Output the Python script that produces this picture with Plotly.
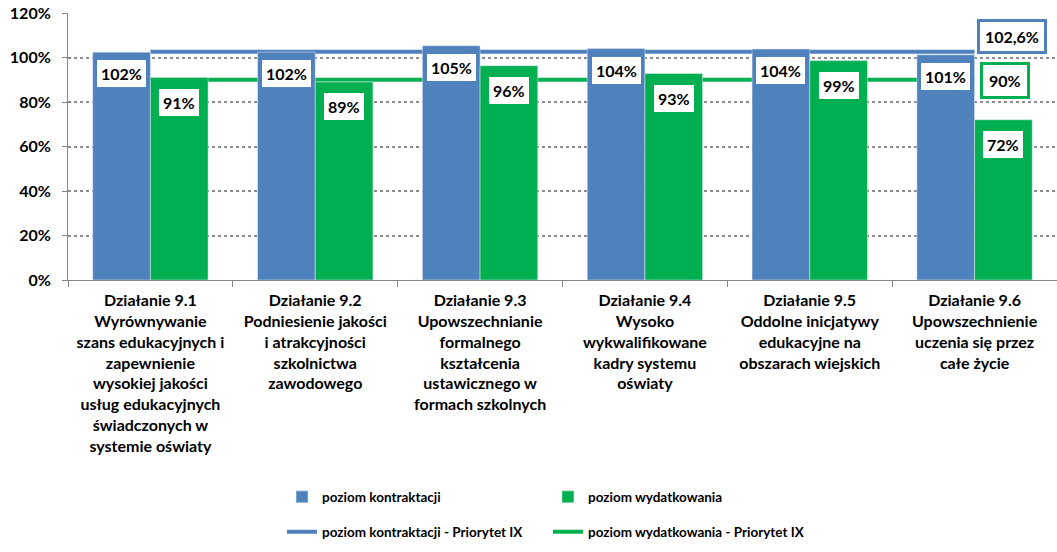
import plotly.graph_objects as go

categories = [
    "Działanie 9.1<br>Wyrównywanie<br>szans edukacyjnych i<br>zapewnienie<br>wysokiej jakości<br>usług edukacyjnych<br>świadczonych w<br>systemie oświaty",
    "Działanie 9.2<br>Podniesienie jakości<br>i atrakcyjności<br>szkolnictwa<br>zawodowego",
    "Działanie 9.3<br>Upowszechnianie<br>formalnego<br>kształcenia<br>ustawicznego w<br>formach szkolnych",
    "Działanie 9.4<br>Wysoko<br>wykwalifikowane<br>kadry systemu<br>oświaty",
    "Działanie 9.5<br>Oddolne inicjatywy<br>edukacyjne na<br>obszarach wiejskich",
    "Działanie 9.6<br>Upowszechnienie<br>uczenia się przez<br>całe życie",
]
kontraktacja = [102.4, 102.4, 105.3, 104.0, 103.8, 101.2]
wydatkowanie = [91.0, 89.0, 96.3, 92.8, 98.6, 72.0]
kontraktacja_labels = ["102%", "102%", "105%", "104%", "104%", "101%"]
wydatkowanie_labels = ["91%", "89%", "96%", "93%", "99%", "72%"]
priorytet_kontraktacja = 102.6
priorytet_wydatkowanie = 90.0
priorytet_kontraktacja_label = "102,6%"
priorytet_wydatkowanie_label = "90%"
y_ticks = [0, 20, 40, 60, 80, 100, 120]

BLUE = "#4F81BD"
GREEN = "#00B050"
FONT = "Lato"
LEG_FONT = dict(family=FONT, size=13.5, color="black", weight="bold")

fig = go.Figure()

# Priority lines (drawn underneath the bars)
fig.add_trace(go.Scatter(
    x=categories, y=[priorytet_kontraktacja] * len(categories),
    mode="lines", line=dict(color=BLUE, width=4),
    name="poziom kontraktacji - Priorytet IX", legend="legend3",
    xaxis="x", yaxis="y", hoverinfo="skip"))
fig.add_trace(go.Scatter(
    x=categories, y=[priorytet_wydatkowanie] * len(categories),
    mode="lines", line=dict(color=GREEN, width=4),
    name="poziom wydatkowania - Priorytet IX", legend="legend4",
    xaxis="x", yaxis="y", hoverinfo="skip"))

# Bars on overlaying axes so they sit on top of the lines
fig.add_trace(go.Bar(
    x=categories, y=kontraktacja, marker_color=BLUE,
    name="poziom kontraktacji", legend="legend",
    xaxis="x2", yaxis="y2"))
fig.add_trace(go.Bar(
    x=categories, y=wydatkowanie, marker_color=GREEN,
    name="poziom wydatkowania", legend="legend2",
    xaxis="x2", yaxis="y2"))

annotations = []
for i in range(len(categories)):
    annotations.append(dict(
        x=i - 0.175, y=kontraktacja[i], xref="x", yref="y",
        text=kontraktacja_labels[i], showarrow=False,
        xanchor="center", yanchor="top", yshift=-6,
        bgcolor="white", bordercolor=BLUE, borderwidth=2, borderpad=4,
        font=dict(family=FONT, size=16, color="black", weight="bold")))
    annotations.append(dict(
        x=i + 0.175, y=wydatkowanie[i], xref="x", yref="y",
        text=wydatkowanie_labels[i], showarrow=False,
        xanchor="center", yanchor="top", yshift=-5,
        bgcolor="white", bordercolor=GREEN, borderwidth=6, borderpad=4,
        font=dict(family=FONT, size=16, color="black", weight="bold")))

annotations.append(dict(
    x=0.955, y=109.6, xref="paper", yref="y",
    text=priorytet_kontraktacja_label, showarrow=False,
    xanchor="center", yanchor="middle",
    bgcolor="white", bordercolor=BLUE, borderwidth=3, borderpad=5,
    font=dict(family=FONT, size=16, color="black", weight="bold")))
annotations.append(dict(
    x=0.947, y=89.8, xref="paper", yref="y",
    text=priorytet_wydatkowanie_label, showarrow=False,
    xanchor="center", yanchor="middle",
    bgcolor="white", bordercolor=GREEN, borderwidth=3, borderpad=6,
    font=dict(family=FONT, size=16, color="black", weight="bold")))


def leg(x, y):
    return dict(orientation="h", x=x, y=y, xanchor="left", yanchor="middle",
                font=LEG_FONT, bgcolor="rgba(0,0,0,0)", borderwidth=0)


fig.update_layout(
    width=1057, height=552,
    margin=dict(l=68, r=0, t=13, b=272, autoexpand=False),
    paper_bgcolor="white", plot_bgcolor="white",
    barmode="group", bargap=0.3, bargroupgap=0,
    font=dict(family=FONT, size=15, color="black"),
    xaxis=dict(
        type="category", showline=True, linecolor="#868686", linewidth=1,
        ticks="outside", tickson="boundaries", ticklen=6, tickcolor="#868686",
        tickfont=dict(family=FONT, size=16, color="black", weight="bold"),
        ticklabelstandoff=6,
        showgrid=False, range=[-0.5, 5.5], automargin=False),
    yaxis=dict(
        range=[0, 120], tickvals=y_ticks, ticktext=[f"{v}%" for v in y_ticks],
        showline=True, linecolor="#868686", linewidth=1,
        ticks="outside", ticklen=5, tickcolor="#868686",
        showgrid=True, gridcolor="#8C8C8C", griddash="dot", gridwidth=1.5,
        zeroline=False, automargin=False, ticklabelstandoff=8,
        tickfont=dict(family=FONT, size=16, color="black", weight="bold")),
    xaxis2=dict(type="category", overlaying="x", visible=False,
                range=[-0.5, 5.5]),
    yaxis2=dict(overlaying="y", range=[0, 120], visible=False),
    legend=leg(0.2164, -0.813),
    legend2=leg(0.4853, -0.813),
    legend3=leg(0.2164, -0.944),
    legend4=leg(0.4853, -0.944),
    annotations=annotations,
    showlegend=True,
)

fig.write_html("out.html",
               config={"displayModeBar": False},
               post_script="document.body.style.margin='0px';")
